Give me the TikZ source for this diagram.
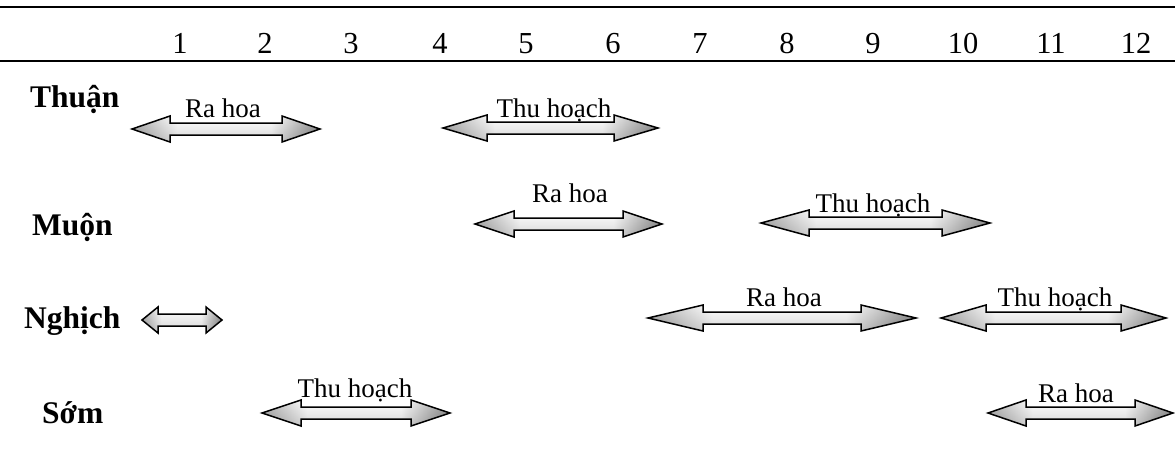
\documentclass[tikz,border=0pt]{standalone}
\usepackage{fontspec}
\setmainfont{Liberation Serif}
\usetikzlibrary{calc}
\definecolor{arrL}{gray}{0.55}
\definecolor{arrR}{gray}{0.38}
\pgfdeclarehorizontalshading{arrshade}{100bp}{color(0bp)=(arrL); color(25bp)=(arrL); color(37bp)=(white); color(62bp)=(white); color(75bp)=(arrR); color(100bp)=(arrR)}
\tikzset{
  rule/.style={line width=2pt},
  num/.style={anchor=base, inner sep=0pt, font=\fontsize{30.5}{34}\selectfont},
  lab/.style={anchor=base, inner sep=0pt, font=\fontsize{27}{31}\selectfont},
  rowlab/.style={anchor=base west, inner sep=0pt, font=\fontsize{31.5}{36}\selectfont\bfseries},
  arrowfill/.style={shading=arrshade},
  arrowtint/.style={top color=white, bottom color=gray!90, fill opacity=0.35},
  arrowline/.style={draw=black, line width=1.5pt, line join=miter},
}
% name, x left tip, x right tip, y, head length
\newcommand\mkarrow[5]{%
  \coordinate (#1-l) at (#2,#4);
  \coordinate (#1-r) at (#3,#4);
  \foreach \sty in {arrowfill,arrowtint,arrowline}{%
  \path[\sty] (#1-l) -- ++(#5,-13) -- ++(0,7) -- ($(#1-r)+(-#5,-6)$) -- ++(0,-7)
    -- (#1-r) -- ++(-#5,13) -- ++(0,-7) -- ($(#1-l)+(#5,6)$) -- ++(0,7) -- cycle;}
}
\begin{document}
\begin{tikzpicture}[x=1pt,y=-1pt]
\useasboundingbox (0,0) rectangle (1175,448);
% rules
\coordinate (t1) at (0,7); \coordinate (t2) at (1175,7);
\coordinate (b1) at (0,61); \coordinate (b2) at (1175,61);
\draw[rule] (t1) -- (t2);
\draw[rule] (b1) -- (b2);
% month numbers
\foreach \i/\x in {1/180,2/265,3/351,4/440,5/526,6/613,7/700,8/787,9/873,10/963,11/1051,12/1136}
  \node[num] (n\i) at (\x,53) {\i};
% row labels
\node[rowlab] (thuan) at (30,107) {Thuận};
\node[rowlab] (muon) at (32,235) {Muộn};
\node[rowlab] (nghich) at (24,328) {Nghịch};
\node[rowlab] (som) at (42,423) {Sớm};
% arrows
\mkarrow{a1}{132}{320}{129}{38}
\mkarrow{a2}{443}{658}{128}{44}
\mkarrow{a3}{475}{662}{224}{39}
\mkarrow{a4}{761}{990}{223}{48}
\mkarrow{a5}{142}{222}{320}{16}
\mkarrow{a6}{648}{916}{318}{55}
\mkarrow{a7}{941}{1166}{318}{45}
\mkarrow{a8}{262}{450}{413}{39}
\mkarrow{a9}{988}{1173}{413}{38}
% arrow labels
\node[lab] (l1) at (223,117) {Ra hoa};
\node[lab] (l2) at (554,117) {Thu hoạch};
\node[lab] (l3) at (570,202) {Ra hoa};
\node[lab] (l4) at (873,212) {Thu hoạch};
\node[lab] (l6) at (784,306) {Ra hoa};
\node[lab] (l7) at (1055,306) {Thu hoạch};
\node[lab] (l8) at (355,397) {Thu hoạch};
\node[lab] (l9) at (1076,402) {Ra hoa};
\end{tikzpicture}
\end{document}
